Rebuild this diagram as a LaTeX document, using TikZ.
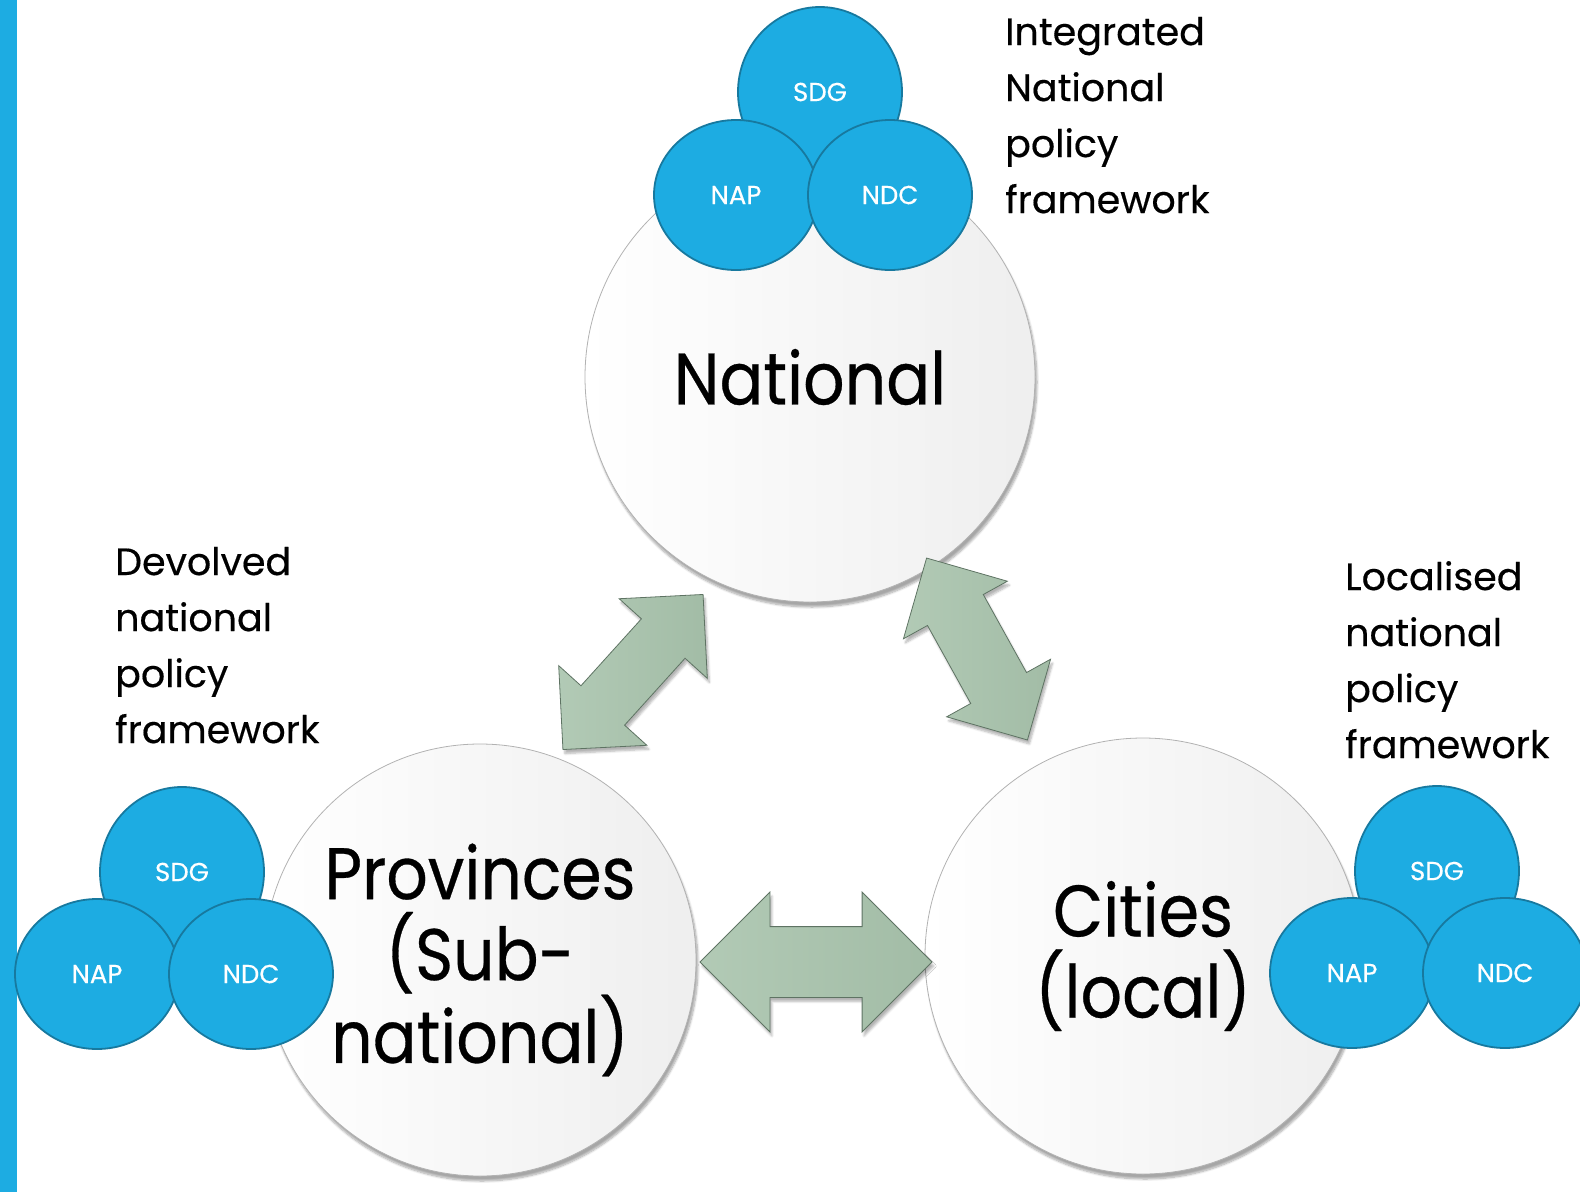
\documentclass[tikz,border=0pt]{standalone}
\usepackage{fontspec}
\setmainfont{Poppins}[FakeStretch=0.89, FakeBold=0.4]
\newfontfamily\notefont{Poppins}[FakeBold=0.4]
\usetikzlibrary{shapes.geometric,shapes.arrows,shadows.blur}
\definecolor{barblue}{HTML}{1DACE2}
\definecolor{blobline}{HTML}{17799F}
\definecolor{arrfill}{HTML}{A9C4AD}
\definecolor{arrline}{HTML}{5E7363}

\begin{document}
\begin{tikzpicture}[x=1pt,y=-1pt,
  level/.style={circle, draw=gray!60, line width=0.8pt, left color=white, right color=gray!13,
    minimum size=#1, inner sep=0, align=center, font=\fontsize{73}{81}\selectfont,
    blur shadow={shadow xshift=2pt, shadow yshift=-5pt, shadow opacity=35, shadow blur steps=8}},
  blob/.style={ellipse, draw=blobline, line width=1.8pt, fill=barblue, text=white,
    minimum width=164, minimum height=#1, inner sep=0, font=\notefont\fontsize{26}{26}\selectfont},
  blob/.default=150,
  link/.style={double arrow, draw=arrline, line width=0.8pt, left color=arrfill!90!white,
    right color=arrfill!96!black, inner xsep=0, double arrow head extend=#1,
    blur shadow={shadow xshift=2pt, shadow yshift=-4pt, shadow opacity=30, shadow blur steps=6}},
  note/.style={align=left, anchor=base west, inner sep=0, font=\notefont\fontsize{38}{56}\selectfont}]
\useasboundingbox (0,0) rectangle (1580,1192);
\fill[barblue] (0,0) rectangle (17,1192);

% the three levels
\node[level=450] (nat) at (810,377) {National};
\node[level=432] (prov) at (480,960) {Provinces\\(Sub-\\national)};
\node[level=436] (city) at (1143,956) {Cities\\(local)};

% two-way arrows
\node[link=30, inner ysep=29, minimum height=209, rotate=47.9] (np) at (633,672) {};
\node[link=27.5, inner ysep=31.5, minimum height=208, rotate=-61] (nc) at (977,649) {};
\node[link=34.5, inner ysep=35, minimum height=232] (pc) at (816,962) {};

% framework labels (anchored at the last line)
\node[note] (intg) at (1005,213) {Integrated\\National\\policy\\framework};
\node[note] (devo) at (115,743) {Devolved\\national\\policy\\framework};
\node[note] (locl) at (1345,758) {Localised\\national\\policy\\framework};

% SDG / NAP / NDC sets
\node[blob=170] (sdga) at (820,92) {SDG};
\node[blob] (napa) at (736,195) {NAP};
\node[blob] (ndca) at (890,195) {NDC};
\node[blob=170] (sdgb) at (182,872) {SDG};
\node[blob] (napb) at (97,974) {NAP};
\node[blob] (ndcb) at (251,974) {NDC};
\node[blob=170] (sdgc) at (1437,871) {SDG};
\node[blob] (napc) at (1352,973) {NAP};
\node[blob] (ndcc) at (1505,973) {NDC};
\end{tikzpicture}
\end{document}
